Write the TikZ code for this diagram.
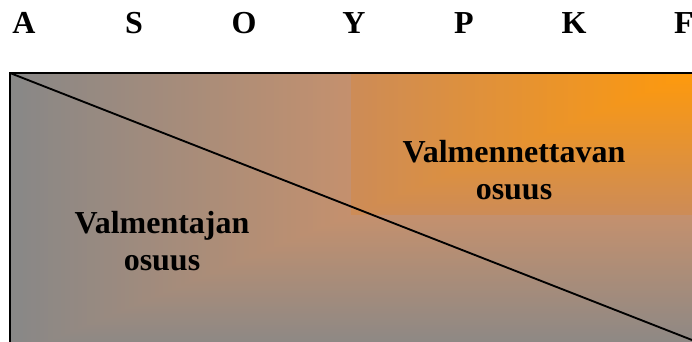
\documentclass[tikz,border=0pt]{standalone}
\usepackage{fontspec}
\setmainfont{Liberation Serif}
\begin{document}
\begin{tikzpicture}[x=0.75pt,y=-0.75pt,
  letter/.style={anchor=base,inner sep=0pt,font=\fontsize{24}{28}\selectfont\bfseries},
  label/.style={anchor=base,inner sep=0pt,font=\fontsize{24}{28}\selectfont\bfseries},
  edge/.style={draw=black,line width=1.2pt},
  diag/.style={draw=black,line width=1.4pt}]
\useasboundingbox (0,0) rectangle (692,342);
% gradient fill (rectangular gradient from the top-right corner)
\begin{scope}
\clip (10,73) rectangle (700,350);
\foreach \i in {0,...,159}{
  \pgfmathsetmacro\t{(\i+0.5)/160}
  \ifdim\t pt<0.5pt
    \pgfmathsetmacro\s{\t/0.5}
    \pgfmathtruncatemacro\rr{136+61*\s}
    \pgfmathtruncatemacro\gg{136+9*\s}
    \pgfmathtruncatemacro\bb{136-26*\s}
  \else
    \pgfmathsetmacro\s{(\t-0.5)/0.5}
    \pgfmathtruncatemacro\rr{205+50*\s}
    \pgfmathtruncatemacro\gg{140+14*\s}
    \pgfmathtruncatemacro\bb{88-76*\s}
  \fi
  \definecolor{gc}{RGB}{\rr,\gg,\bb}
  \fill[gc] ({10+\i/160*682},73) rectangle (700,{357-\i/160*284});
}
\end{scope}
\coordinate (tl) at (10,73);
\coordinate (tr) at (700,73);
\coordinate (bl) at (10,350);
\coordinate (br) at (692,340);
\draw[edge] (tr) -- (tl) -- (bl);
\draw[diag] (tl) -- (br);
% letters
\node[letter] (la) at (24,34) {A};
\node[letter] (ls) at (134,34) {S};
\node[letter] (lo) at (244,34) {O};
\node[letter] (ly) at (354,34) {Y};
\node[letter] (lp) at (464,34) {P};
\node[letter] (lk) at (574,34) {K};
\node[letter] (lf) at (684,34) {F};
% labels
\node[label] (valmennettava) at (514,162) {\begin{tabular}[t]{@{}c@{}}Valmennettavan\\osuus\end{tabular}};
\node[label] (valmentaja) at (162,233) {\begin{tabular}[t]{@{}c@{}}Valmentajan\\osuus\end{tabular}};
\end{tikzpicture}
\end{document}
